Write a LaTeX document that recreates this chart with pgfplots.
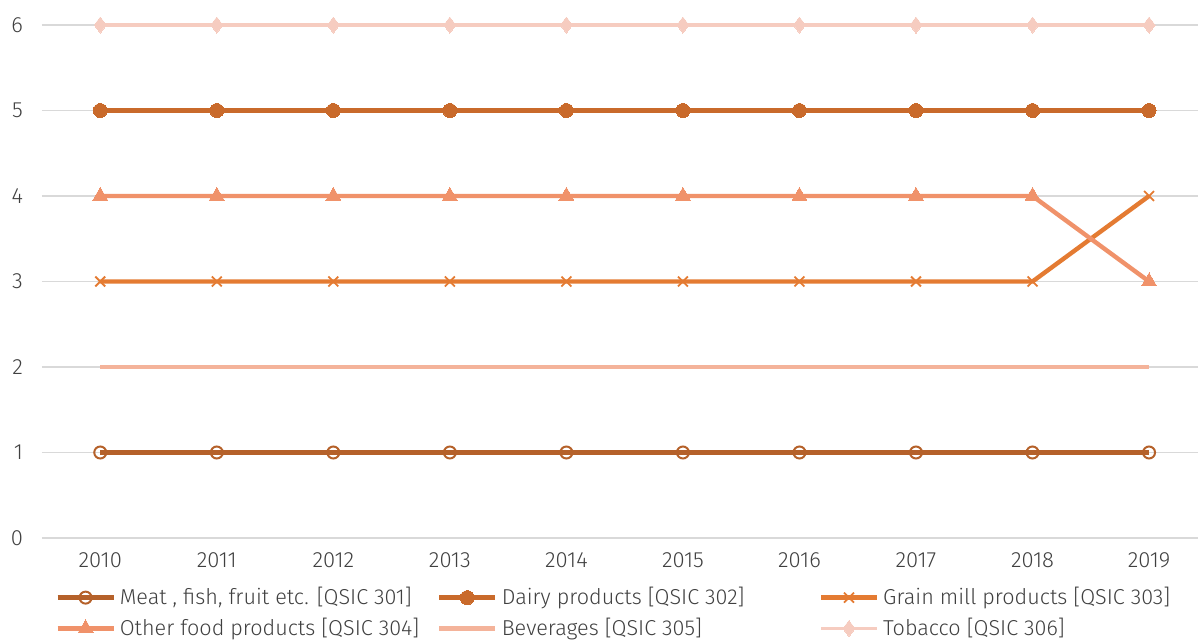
\documentclass[border=0pt]{standalone}
\usepackage{pgfplots}
\pgfplotsset{compat=1.18}
\usepackage{fontspec}
\setmainfont{Fira Sans Light}
\definecolor{cMeat}{HTML}{B5612A}
\definecolor{cDairy}{HTML}{C96A2B}
\definecolor{cGrain}{HTML}{E47B32}
\definecolor{cOther}{HTML}{F0926A}
\definecolor{cBev}{HTML}{F4B39A}
\definecolor{cTob}{HTML}{F6CCC0}
\definecolor{cGrid}{HTML}{D9D9D9}
\definecolor{cText}{HTML}{404040}
\begin{document}
\begin{tikzpicture}
\path[use as bounding box] (-21pt,-52pt) rectangle (578pt,269pt);
\begin{axis}[
  at={(0,0)}, anchor=south west,
  scale only axis,
  width=578pt, height=256.5pt,
  xmin=-0.5, xmax=9.42,
  ymin=0, ymax=6,
  axis line style={draw=none},
  xtick={0,...,9},
  xticklabels={2010,2011,2012,2013,2014,2015,2016,2017,2018,2019},
  ytick={0,...,6},
  tick style={draw=none},
  ymajorgrids, grid style={cGrid, line width=0.8pt},
  every tick label/.append style={font=\fontsize{11}{12}\selectfont, text=cText},
  /pgf/number format/assume math mode=true,
  xticklabel style={yshift=-4pt},
  yticklabel style={xshift=-6pt},
  clip=false,
  legend columns=3,
  legend style={at={(6.5pt,-22.5pt)}, anchor=north west, draw=none, fill=none,
    font=\fontsize{10.8}{12}\selectfont, text=cText,
    inner sep=0pt, row sep=1.2pt,
    /tikz/every even column/.append style={column sep=0pt}},
  legend cell align=left,
  legend image code/.code={
    \draw[#1, mark repeat=2, mark phase=2] plot coordinates {(0pt,0pt) (14pt,0pt) (28pt,0pt)};
  },
]
\addplot[cMeat, line width=2.2pt, mark=o, mark size=3pt, mark options={line width=1pt, fill=white}]
  coordinates {(0,1)(1,1)(2,1)(3,1)(4,1)(5,1)(6,1)(7,1)(8,1)(9,1)};
\addlegendentry{\makebox[156.5pt][l]{Meat , fish, fruit etc. [QSIC 301]}}
\addplot[cDairy, line width=2.5pt, mark=*, mark size=3.5pt, mark options={line width=0pt}]
  coordinates {(0,5)(1,5)(2,5)(3,5)(4,5)(5,5)(6,5)(7,5)(8,5)(9,5)};
\addlegendentry{\makebox[156.5pt][l]{Dairy products [QSIC 302]}}
\addplot[cGrain, line width=2.2pt, mark=x, mark size=3.5pt, mark options={line width=0.9pt}]
  coordinates {(0,3)(1,3)(2,3)(3,3)(4,3)(5,3)(6,3)(7,3)(8,3)(9,4)};
\addlegendentry{\makebox[156.5pt][l]{Grain mill products [QSIC 303]}}
\addplot[cOther, line width=2.2pt, mark=triangle*, mark size=4.3pt, mark options={line width=0pt}]
  coordinates {(0,4)(1,4)(2,4)(3,4)(4,4)(5,4)(6,4)(7,4)(8,4)(9,3)};
\addlegendentry{\makebox[156.5pt][l]{Other food products [QSIC 304]}}
\addplot[cBev, line width=2.2pt, no marks]
  coordinates {(0,2)(1,2)(2,2)(3,2)(4,2)(5,2)(6,2)(7,2)(8,2)(9,2)};
\addlegendentry{\makebox[156.5pt][l]{Beverages [QSIC 305]}}
\addplot[cTob, line width=1.8pt, mark=diamond*, mark size=4pt, mark options={line width=0pt}]
  coordinates {(0,6)(1,6)(2,6)(3,6)(4,6)(5,6)(6,6)(7,6)(8,6)(9,6)};
\addlegendentry{\makebox[156.5pt][l]{Tobacco [QSIC 306]}}
\end{axis}
\end{tikzpicture}
\end{document}
